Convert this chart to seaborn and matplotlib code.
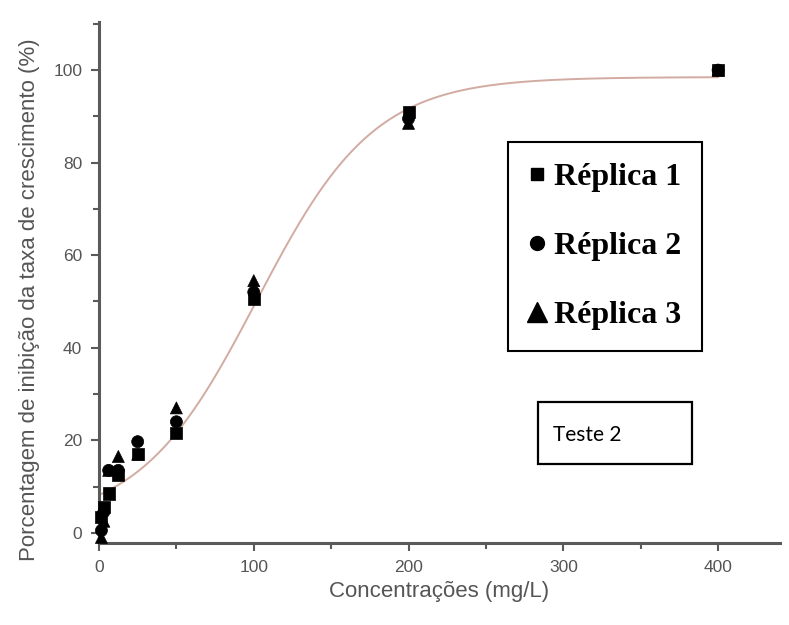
import numpy as np
import pandas as pd
import matplotlib
matplotlib.use("Agg")
import matplotlib.pyplot as plt
from matplotlib.lines import Line2D
from matplotlib.patches import Rectangle
from matplotlib.ticker import MultipleLocator
import seaborn as sns

# Concentrations tested (mg/L) and inhibition (%) for each replicate
concentracoes = [1.5625, 3.125, 6.25, 12.5, 25, 50, 100, 200, 400]
replica_1 = [3.5, 5.5, 8.5, 12.5, 17.0, 21.5, 50.5, 91.0, 100.0]
replica_2 = [0.5, 4.5, 13.5, 13.5, 19.7, 24.0, 52.0, 89.5, 100.0]
replica_3 = [-1.0, 2.5, 13.5, 16.5, 17.0, 27.0, 54.5, 88.5, 100.0]
series_names = ["Réplica 1", "Réplica 2", "Réplica 3"]

# Boltzmann fit parameters (A1, A2, x0, dx)
fit_A1, fit_A2, fit_x0, fit_dx = 2.0, 98.5, 102.0, 38.0

df = pd.DataFrame({
    "conc": concentracoes * 3,
    "inib": replica_1 + replica_2 + replica_3,
    "serie": np.repeat(series_names, len(concentracoes)),
})

sns.set_style("ticks")
plt.rcParams["font.family"] = ["Liberation Sans", "DejaVu Sans"]

grey = "#5a5a5a"
text_grey = "#555555"
fig = plt.figure(figsize=(7.89, 6.25), dpi=100)
ax = fig.add_axes([99 / 789, 1 - 543 / 625, 681 / 789, 521 / 625])

# fitted curve
xs = np.linspace(0, 400, 400)
ys = fit_A2 + (fit_A1 - fit_A2) / (1 + np.exp((xs - fit_x0) / fit_dx))
sns.lineplot(x=xs, y=ys, ax=ax, color="#d2aba2", lw=1.4, zorder=2)

markers = {"Réplica 1": "s", "Réplica 2": "o", "Réplica 3": "^"}
sns.scatterplot(data=df, x="conc", y="inib", style="serie", markers=markers,
                hue="serie", palette=["black"] * 3, s=75, edgecolor="black",
                linewidth=0.5, ax=ax, legend=False, zorder=3, clip_on=False)

ax.set_xlim(0, 440)
ax.set_ylim(-2.2, 110.4)
ax.xaxis.set_major_locator(MultipleLocator(100))
ax.xaxis.set_minor_locator(MultipleLocator(50))
ax.yaxis.set_major_locator(MultipleLocator(20))
ax.yaxis.set_minor_locator(MultipleLocator(10))
ax.set_yticks([0, 20, 40, 60, 80, 100])

for side in ["top", "right"]:
    ax.spines[side].set_visible(False)
for side in ["left", "bottom"]:
    ax.spines[side].set_color(grey)
    ax.spines[side].set_linewidth(2.2)

ax.tick_params(which="major", direction="out", length=6, width=1.5,
               color=grey, labelcolor=text_grey, labelsize=12.5, pad=6)
ax.tick_params(which="minor", direction="out", length=4, width=1.5, color=grey)

ax.set_xlabel("Concentrações (mg/L)", fontsize=16, color=text_grey)
ax.set_ylabel("Porcentagem de inibição da taxa de crescimento (%)",
              fontsize=16, color=text_grey)
ax.xaxis.set_label_coords(0.5, -(592 - 543) / 521)
ax.yaxis.set_label_coords(-(99 - 30) / 681, (543 - 300) / 521)
ax.xaxis.label.set_va("center")
ax.yaxis.label.set_va("center")

# legend box
handles = [
    Line2D([], [], marker="s", ls="", color="black", markersize=9),
    Line2D([], [], marker="o", ls="", color="black", markersize=10),
    Line2D([], [], marker="^", ls="", color="black", markersize=15),
]
leg = ax.legend(handles, series_names, loc="upper left",
                bbox_to_anchor=((508 - 99) / 681, (543 - 142) / 521),
                borderaxespad=0, frameon=True, fancybox=False, framealpha=1,
                edgecolor="black", handlelength=0.5, handletextpad=0.28,
                labelspacing=1.24, borderpad=0.65, labelcolor="black",
                prop={"family": ["Liberation Serif", "DejaVu Serif"],
                      "weight": "bold", "size": 23})
leg.get_frame().set_linewidth(1.5)

# "Teste 2" box
fig.patches.append(Rectangle((538 / 789, 1 - 464 / 625), 154 / 789, 62 / 625,
                             transform=fig.transFigure, fill=False,
                             edgecolor="black", linewidth=1.6))
fig.text(553 / 789, 1 - 435 / 625, "Teste 2", fontsize=15,
         family=["Lato", "DejaVu Sans"], va="center", ha="left", color="black")

fig.savefig("out.png", dpi=100)
